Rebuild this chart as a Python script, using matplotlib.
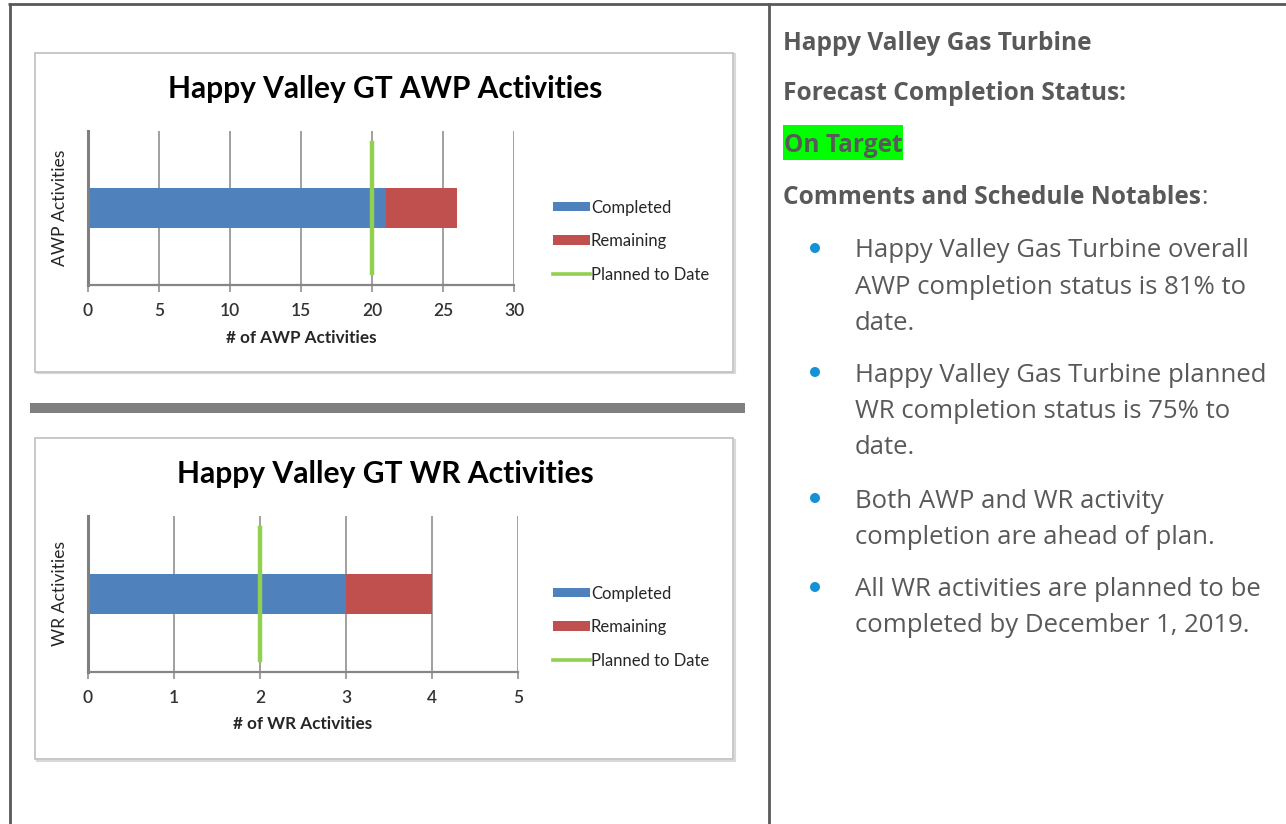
import matplotlib
matplotlib.use("Agg")
import matplotlib.pyplot as plt
from matplotlib.patches import Rectangle, Ellipse
from matplotlib.lines import Line2D

# ---------------- data ----------------
series_names = ["Completed", "Remaining", "Planned to Date"]

awp_title = "Happy Valley GT AWP Activities"
awp_xlabel = "# of AWP Activities"
awp_ylabel = "AWP Activities"
awp_completed = [21]
awp_remaining = [5]
awp_planned = 20
awp_ticks = [0, 5, 10, 15, 20, 25, 30]

wr_title = "Happy Valley GT WR Activities"
wr_xlabel = "# of WR Activities"
wr_ylabel = "WR Activities"
wr_completed = [3]
wr_remaining = [1]
wr_planned = 2
wr_ticks = [0, 1, 2, 3, 4, 5]

panel_heading = "Happy Valley Gas Turbine"
status_label = "Forecast Completion Status:"
status_value = "On Target"
comments_label = "Comments and Schedule Notables"
bullets = [
    ["Happy Valley Gas Turbine overall", "AWP completion status is 81% to", "date."],
    ["Happy Valley Gas Turbine planned", "WR completion status is 75% to", "date."],
    ["Both AWP and WR activity", "completion are ahead of plan."],
    ["All WR activities are planned to be", "completed by December 1, 2019."],
]

# ---------------- style ----------------
BLUE = "#4F81BD"
RED = "#C0504D"
GREEN = "#92D050"
GRID = "#868686"
TXT = "#595959"
CHART_FONT = "Lato"
PANEL_FONT = "Open Sans"

W, H = 1286, 824
fig = plt.figure(figsize=(W / 100, H / 100), dpi=100)
fig.patch.set_facecolor("white")
renderer = fig.canvas.get_renderer()


def fx(x):
    return x / W


def fy(y):
    return 1 - y / H


def put(x, y, s, width=None, size=12, **kw):
    t = fig.text(fx(x), fy(y), s, fontsize=size, **kw)
    if width is not None:
        w = t.get_window_extent(renderer=renderer).width
        t.set_fontsize(size * width / w)
    return t


def hline(x0, x1, y, lw, color):
    fig.add_artist(Line2D([fx(x0), fx(x1)], [fy(y), fy(y)], lw=lw, color=color,
                          solid_capstyle="butt"))


def vline(x, y0, y1, lw, color):
    fig.add_artist(Line2D([fx(x), fx(x)], [fy(y0), fy(y1)], lw=lw, color=color,
                          solid_capstyle="butt"))


# outer table borders
BORDER = "#595959"
hline(8, W, 4, 2.0, BORDER)
vline(9.5, 3, H, 2.0, BORDER)
vline(768.5, 3, H, 2.0, BORDER)

# separator bar
fig.add_artist(Rectangle((fx(30), fy(413)), (745 - 30) / W, 10 / H,
                         facecolor="#808080", edgecolor="none"))


def chart_box(x0, y0, x1, y1):
    # soft shadow
    fig.add_artist(Rectangle((fx(x0 + 1.5), fy(y1 + 1.5)), (x1 - x0) / W, (y1 - y0) / H,
                             facecolor="none", edgecolor="#D9D9D9", lw=1.5, zorder=-6))
    fig.add_artist(Rectangle((fx(x0), fy(y1)), (x1 - x0) / W, (y1 - y0) / H,
                             facecolor="white", edgecolor="#BFBFBF", lw=1.2, zorder=-5))


def chart(box, plot, title, title_xy, title_w, xlabel, xlabel_y,
          ylabel, ylabel_x, completed, remaining, planned, ticks, legend_xy):
    chart_box(*box)
    x0, ytop, x1, ybot = plot
    ax = fig.add_axes([fx(x0), fy(ybot), (x1 - x0) / W, (ybot - ytop) / H])
    ax.set_zorder(2)
    ax.set_facecolor("none")
    cats = [0]
    b1 = ax.barh(cats, completed, height=0.255, color=BLUE, label=series_names[0], zorder=2)
    b2 = ax.barh(cats, remaining, left=completed, height=0.255, color=RED,
                 label=series_names[1], zorder=2)
    ax.axvline(planned, ymin=0.075, ymax=0.925, color=GREEN, lw=3.2,
               label=series_names[2], zorder=3)
    ax.set_xlim(ticks[0], ticks[-1])
    ax.set_ylim(-0.5, 0.5)
    ax.set_xticks(ticks)
    ax.set_yticks([])
    ax.grid(axis="x", color=GRID, lw=1.1, zorder=0)
    ax.set_axisbelow(True)
    for s in ("top", "right"):
        ax.spines[s].set_visible(False)
    ax.spines["left"].set_color("#7F7F7F")
    ax.spines["left"].set_linewidth(2.2)
    ax.spines["bottom"].set_color(GRID)
    ax.spines["bottom"].set_linewidth(1.6)
    ax.tick_params(axis="x", length=5, width=1.1, color=GRID, pad=8,
                   labelsize=12.5, labelcolor="#333333")
    for lab in ax.get_xticklabels():
        lab.set_fontfamily(CHART_FONT)
        lab.set_fontweight("semibold")
    # axis labels
    ax.set_xlabel(xlabel, fontfamily=CHART_FONT, fontweight="bold", fontsize=12.3,
                  color="#262626")
    ax.xaxis.set_label_coords(0.5, (ybot - xlabel_y) / (ybot - ytop))
    ax.xaxis.label.set_va("center")
    ax.set_ylabel(ylabel, fontfamily=CHART_FONT, fontsize=12.6, color="#262626")
    ax.yaxis.set_label_coords((ylabel_x - x0) / (x1 - x0), 0.5)
    ax.yaxis.label.set_va("center")
    # title
    put(title_xy[0], title_xy[1], title, width=title_w, size=18, ha="center", va="center",
        fontfamily=CHART_FONT, fontweight="bold", color="black")
    # legend
    leg_line = Line2D([], [], color=GREEN, lw=2.6)
    leg = ax.legend([b1, b2, leg_line], series_names,
                    loc="center left", bbox_to_anchor=(fx(legend_xy[0]), fy(legend_xy[1])),
                    bbox_transform=fig.transFigure, frameon=False, borderaxespad=0,
                    borderpad=0, handlelength=2.2, handleheight=0.5, handletextpad=0.08,
                    labelspacing=1.05, prop={"family": CHART_FONT, "size": 12.0})
    for t in leg.get_texts():
        t.set_color("#262626")
    return ax


chart((35, 53, 733, 372), (88, 131, 514, 285), awp_title, (385, 89), 436,
      awp_xlabel, 338, awp_ylabel, 60, awp_completed, awp_remaining, awp_planned,
      awp_ticks, (553, 241))

chart((35, 438, 733, 759), (88, 516, 518, 672), wr_title, (385, 474), 418,
      wr_xlabel, 724, wr_ylabel, 60, wr_completed, wr_remaining, wr_planned,
      wr_ticks, (553, 627))

# ---------------- right panel ----------------
LX = 783
DY = 3
t = put(LX, 40 + DY, panel_heading, width=310, size=15, va="center", ha="left",
        fontfamily=PANEL_FONT, fontweight="bold", color=TXT)
head_size = t.get_fontsize()
put(LX, 91 + DY, status_label, size=head_size, va="center", ha="left",
    fontfamily=PANEL_FONT, fontweight="bold", color=TXT)
fig.add_artist(Rectangle((fx(783), fy(160)), 120 / W, 35 / H, facecolor="#00FF00",
                         edgecolor="none"))
put(LX + 1, 143 + DY, status_value, size=head_size, va="center", ha="left",
    fontfamily=PANEL_FONT, fontweight="bold", color=TXT)
c = put(LX, 195 + DY, comments_label, size=head_size, va="center", ha="left",
        fontfamily=PANEL_FONT, fontweight="bold", color=TXT)
cw = c.get_window_extent(renderer=renderer).width
put(LX + cw, 195 + DY, ":", size=head_size, va="center", ha="left",
    fontfamily=PANEL_FONT, color=TXT)

line_y = [[248, 284, 320], [372, 408, 444], [498, 534], [587, 623]]
ref = put(855, 248, bullets[0][0], width=393, size=15, va="center", ha="left",
          fontfamily=PANEL_FONT, color=TXT)
body_size = ref.get_fontsize()
ref.remove()
for lines, ys in zip(bullets, line_y):
    fig.add_artist(Ellipse((fx(815), fy(ys[0])), width=10 / W, height=10 / H,
                           facecolor="#1592D6", edgecolor="none"))
    for s, yy in zip(lines, ys):
        put(855, yy + DY, s, size=body_size, va="center", ha="left",
            fontfamily=PANEL_FONT, color=TXT)

fig.savefig("out.png", dpi=100, facecolor="white")
